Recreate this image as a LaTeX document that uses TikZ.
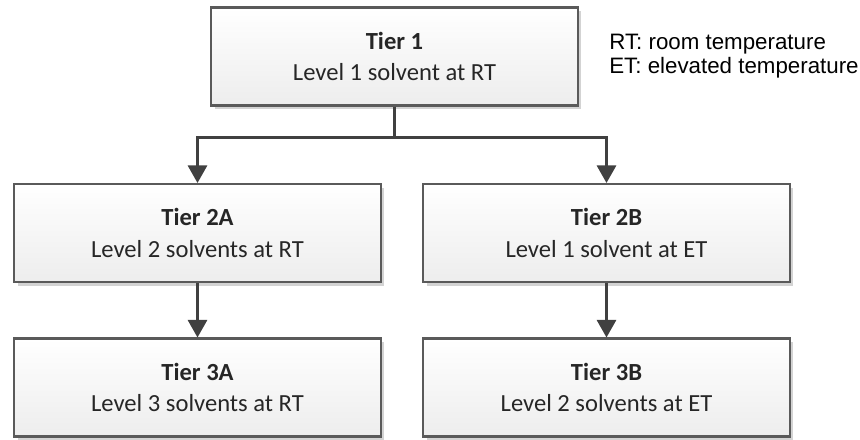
\documentclass[tikz,border=0pt]{standalone}
\usepackage{fontspec}
\setmainfont{Carlito}
\newfontfamily\legendfont{Liberation Sans}
\usetikzlibrary{arrows.meta,shadows}

\definecolor{boxline}{HTML}{5A5A5A}
\definecolor{boxbottom}{HTML}{EDEDED}
\definecolor{linkgray}{HTML}{404040}

\tikzset{
  tierbox/.style={draw=boxline, line width=1.2pt, top color=white, bottom color=boxbottom,
    minimum width=7.34cm, minimum height=1.96cm, align=center, inner sep=0pt,
    font=\fontsize{14}{18}\selectfont, text=black!85,
    drop shadow={shadow xshift=2pt, shadow yshift=-2pt, fill=gray, opacity=.35}},
  link/.style={draw=linkgray, line width=1.2pt, -{Triangle[width=11pt,length=10pt]}},
}

\begin{document}
\begin{tikzpicture}[x=0.02cm, y=-0.02cm]
  \useasboundingbox (0,0) rectangle (860,440);

  \node[tierbox] (t1) at (394.5,56.5) {\textbf{Tier 1}\\Level 1 solvent at RT};
  \node[tierbox] (t2a) at (197.5,233) {\textbf{Tier 2A}\\Level 2 solvents at RT};
  \node[tierbox] (t2b) at (606.5,233) {\textbf{Tier 2B}\\Level 1 solvent at ET};
  \node[tierbox] (t3a) at (197.5,387.5) {\textbf{Tier 3A}\\Level 3 solvents at RT};
  \node[tierbox] (t3b) at (606.5,387.5) {\textbf{Tier 3B}\\Level 2 solvents at ET};

  \node[anchor=west, align=left, inner sep=0pt, font=\legendfont\fontsize{12.7}{13.3}\selectfont]
    (legend) at (609,56) {RT: room temperature\\ET: elevated temperature};

  % tree links
  \draw[link] (t1.south) -- ++(0,31) -| (t2a.north);
  \draw[link] (t1.south) -- ++(0,31) -| (t2b.north);
  \draw[link] (t2a) -- (t3a);
  \draw[link] (t2b) -- (t3b);
\end{tikzpicture}
\end{document}
